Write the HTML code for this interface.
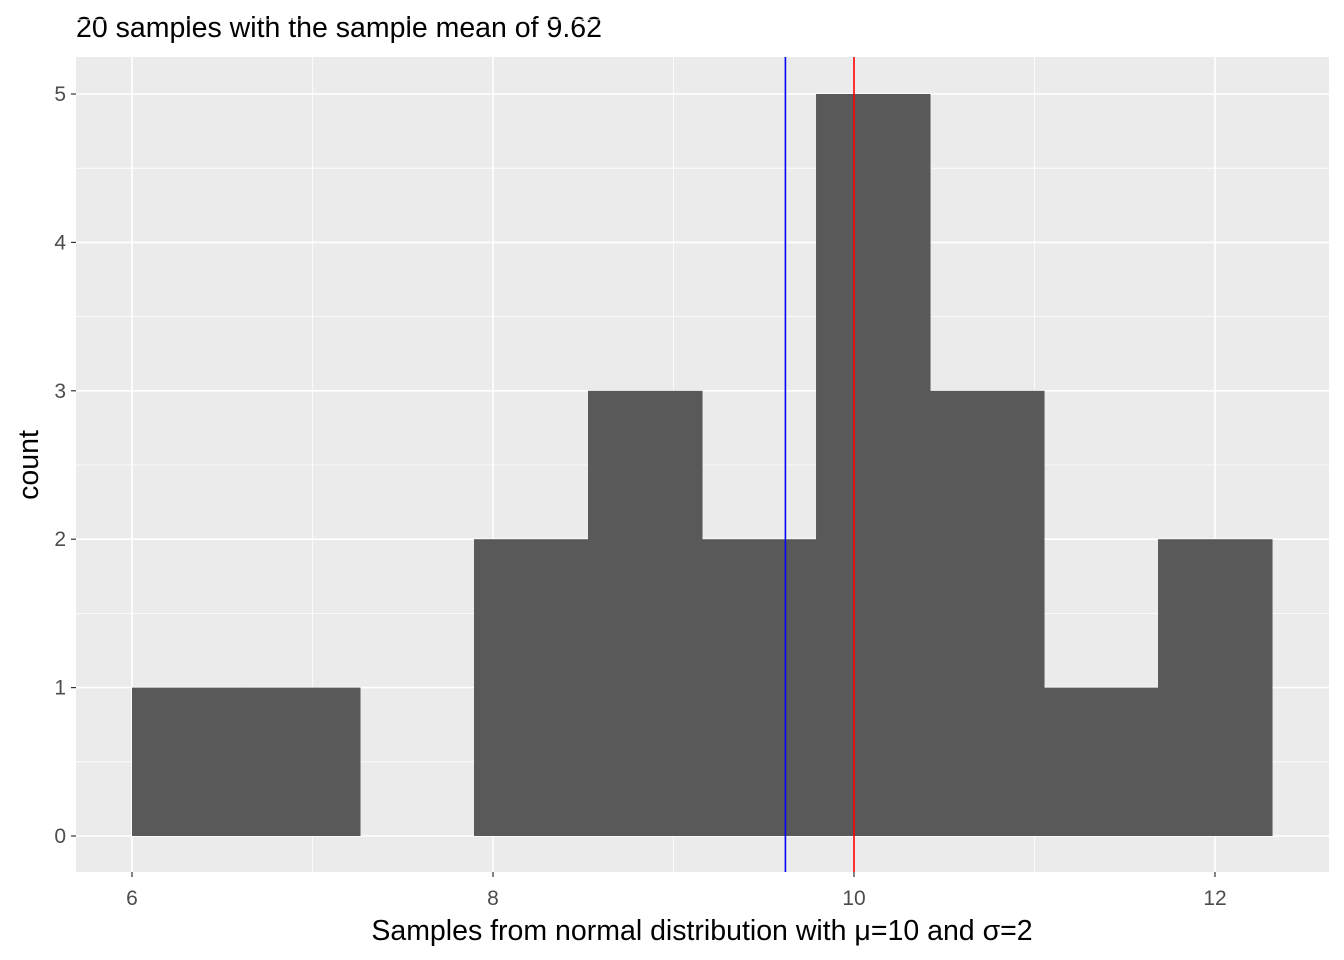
<!DOCTYPE html>
<html><head><meta charset="utf-8"><style>
html,body{margin:0;padding:0;background:#fff;}
svg{display:block;font-family:"Liberation Sans",Arial,sans-serif;}
</style></head><body>
<svg id="chart" width="1344" height="960">
<text x="76" y="37" font-size="28.5" fill="#000">20 samples with the sample mean of 9.62</text>
<text x="702" y="940" font-size="28.5" text-anchor="middle" fill="#000">Samples from normal distribution with μ=10 and σ=2</text>
<text x="0" y="0" font-size="28.5" text-anchor="middle" transform="translate(38,465) rotate(-90)" fill="#000">count</text>
</svg>
<script>
const binStart=6.0, binWidth=0.6316;
const counts=[1,1,0,2,3,2,5,3,1,2];
const xTicks=[6,8,10,12];
const yTicks=[0,1,2,3,4,5];
const sampleMean=9.62, trueMean=10;
const NS='http://www.w3.org/2000/svg';
const svg=document.getElementById('chart');
const L=76,R=1329,T=57,B=872;
const xs=v=>854+(v-10)*180.5;
const ys=v=>836-v*148.4;
function mk(tag,attrs,parent){const e=document.createElementNS(NS,tag);for(const k in attrs)e.setAttribute(k,attrs[k]);(parent||svg).appendChild(e);return e;}
const panel=mk('rect',{x:L,y:T,width:R-L,height:B-T,fill:'#EBEBEB'});


for(let i=0;i<xTicks.length-1;i++){const v=(xTicks[i]+xTicks[i+1])/2;const l=mk('line',{x1:xs(v),x2:xs(v),y1:T,y2:B,stroke:'#fff','stroke-width':0.8});}
for(let i=0;i<yTicks.length;i++){const v=yTicks[i]+0.5;const l=mk('line',{x1:L,x2:R,y1:ys(v),y2:ys(v),stroke:'#fff','stroke-width':0.8});}
xTicks.forEach(v=>{const g=mk('line',{x1:xs(v),x2:xs(v),y1:T,y2:B,stroke:'#fff','stroke-width':1.6});
const t=mk('line',{x1:xs(v),x2:xs(v),y1:B,y2:B+5,stroke:'#333','stroke-width':1.2});
const tx=mk('text',{x:xs(v),y:905,'font-size':21,'text-anchor':'middle',fill:'#4D4D4D'});tx.textContent=v;});
yTicks.forEach(v=>{const g=mk('line',{x1:L,x2:R,y1:ys(v),y2:ys(v),stroke:'#fff','stroke-width':1.6});
const t=mk('line',{x1:L-5,x2:L,y1:ys(v),y2:ys(v),stroke:'#333','stroke-width':1.2});
const tx=mk('text',{x:L-10,y:ys(v)+7,'font-size':21,'text-anchor':'end',fill:'#4D4D4D'});tx.textContent=v;});
counts.forEach((c,i)=>{if(!c)return;const x0=xs(binStart+i*binWidth),x1=xs(binStart+(i+1)*binWidth);
const r=mk('rect',{x:x0,y:ys(c),width:x1-x0+0.5,height:ys(0)-ys(c),fill:'#595959'});});
const bl=mk('line',{x1:xs(sampleMean),x2:xs(sampleMean),y1:T,y2:B,stroke:'#0000FF','stroke-width':1.6});


const rl=mk('line',{x1:xs(trueMean),x2:xs(trueMean),y1:T,y2:B,stroke:'#FF0000','stroke-width':1.6});


</script>
</body></html>
